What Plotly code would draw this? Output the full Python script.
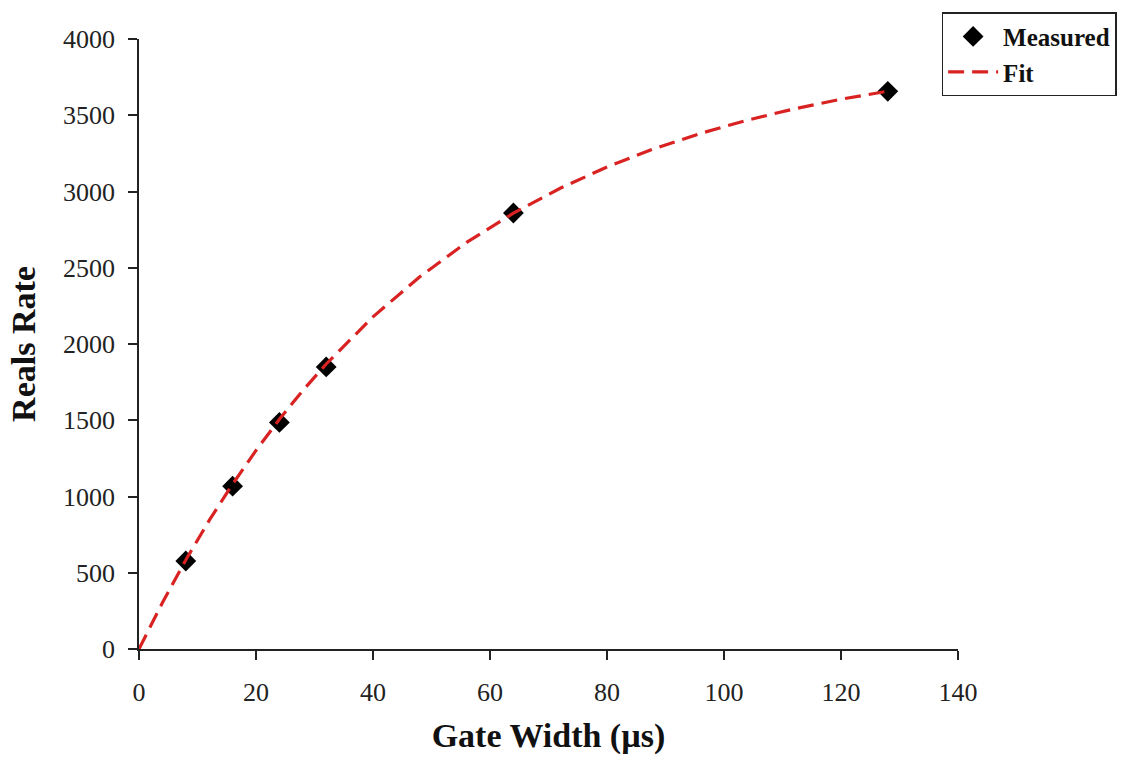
import plotly.graph_objects as go

# Measured data
gate_width = [8, 16, 24, 32, 64, 128]
reals_rate = [577, 1068, 1486, 1850, 2859, 3657]

# Fit curve
fit_x = [0, 4, 8, 12, 16, 20, 24, 28, 32, 40, 48, 56, 64, 72, 80, 88, 96, 104, 112, 120, 128]
fit_y = [0, 303, 584, 843, 1081, 1302, 1506, 1695, 1869, 2178, 2441, 2666, 2858, 3021, 3161,
         3280, 3381, 3468, 3542, 3605, 3658]

x_ticks = [0, 20, 40, 60, 80, 100, 120, 140]
y_ticks = [0, 500, 1000, 1500, 2000, 2500, 3000, 3500, 4000]

serif = "Liberation Serif, Times New Roman, serif"

fig = go.Figure()
fig.add_trace(go.Scatter(
    x=gate_width, y=reals_rate, mode="markers", name="Measured",
    marker=dict(symbol="diamond", size=16, color="black"),
))
fig.add_trace(go.Scatter(
    x=fit_x, y=fit_y, mode="lines", name="Fit",
    line=dict(color="#d92222", width=3.2, dash="16px,8px"),
))

fig.update_layout(
    width=1130, height=764,
    margin=dict(l=139, r=172, t=39, b=115),
    paper_bgcolor="white", plot_bgcolor="white",
    font=dict(family=serif, size=26, color="#222"),
    showlegend=True,
    legend=dict(
        x=0.98, y=1.044, xanchor="left", yanchor="top",
        bordercolor="#222", borderwidth=1.5, bgcolor="white",
        font=dict(family=serif, size=25, color="#111", weight="bold"),
        tracegroupgap=0, itemwidth=50,
    ),
    xaxis=dict(
        range=[0, 140], tickvals=x_ticks, showgrid=False, zeroline=False,
        showline=True, linecolor="#222", linewidth=1.5,
        ticks="outside", ticklen=9, tickcolor="#222", tickwidth=1.5,
        tickfont=dict(family=serif, size=26, color="#222"),
        ticklabelstandoff=10,
        title=dict(text="Gate Width (µs)", standoff=17,
                   font=dict(family=serif, size=34, color="#111", weight="bold")),
    ),
    yaxis=dict(
        range=[0, 4000], tickvals=y_ticks, showgrid=False, zeroline=False,
        showline=True, linecolor="#222", linewidth=1.5,
        ticks="outside", ticklen=9, tickcolor="#222", tickwidth=1.5,
        tickfont=dict(family=serif, size=26, color="#222"),
        ticklabelstandoff=8,
        title=dict(text="Reals Rate", standoff=17,
                   font=dict(family=serif, size=34, color="#111", weight="bold")),
    ),
)

fig.write_html("out.html")
